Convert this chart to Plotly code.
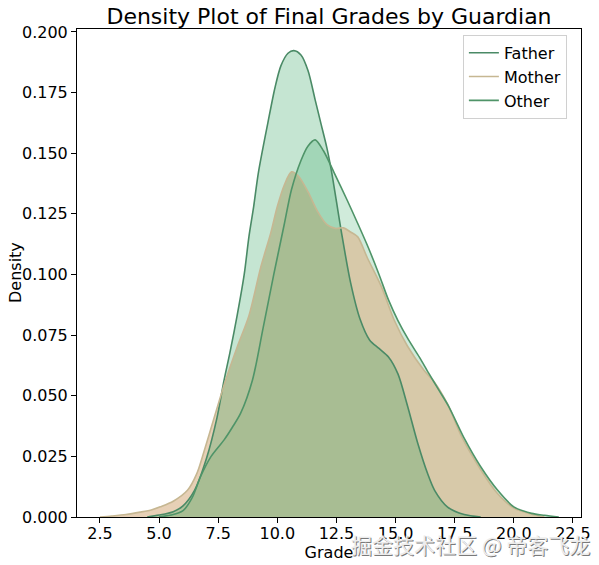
import plotly.graph_objects as go

# ---- data (grade, density) ----
father_x = [4.5, 5.0, 5.6, 6.0, 6.5, 7.0, 7.45, 7.75, 8.0, 8.3, 8.6, 8.8, 9.0, 9.2, 9.6, 9.9,
            10.15, 10.45, 10.7, 11.0, 11.3, 11.6, 11.85, 12.1, 12.3, 12.7, 13.1, 13.5, 13.9,
            14.3, 14.7, 15.1, 15.5, 15.95, 16.35, 16.65, 17.2, 17.9, 18.6]
father_y = [0.0, 0.0008, 0.0022, 0.0045, 0.011, 0.024, 0.041, 0.0565, 0.068, 0.083, 0.1, 0.1156,
            0.128, 0.142, 0.1625, 0.177, 0.186, 0.1912, 0.1923, 0.1905, 0.184, 0.172, 0.162,
            0.152, 0.142, 0.118, 0.0965, 0.0815, 0.073, 0.0695, 0.066, 0.059, 0.046, 0.030,
            0.018, 0.011, 0.0041, 0.001, 0.0]

mother_x = [2.5, 3.0, 3.6, 4.2, 4.7, 5.05, 5.6, 6.2, 6.6, 6.9, 7.3, 7.8, 8.3, 8.8, 9.3, 9.72,
            10.0, 10.3, 10.6, 10.9, 11.3, 11.7, 12.1, 12.45, 12.8, 13.1, 13.4, 13.8, 14.4,
            14.95, 15.5, 16.2, 16.65, 17.2, 17.8, 18.6, 19.3, 20.0, 20.9, 21.3]
mother_y = [0.0, 0.0004, 0.001, 0.002, 0.003, 0.0042, 0.0065, 0.011, 0.018, 0.027, 0.040, 0.056,
            0.07, 0.083, 0.103, 0.117, 0.128, 0.137, 0.1423, 0.1405, 0.134, 0.126, 0.1205,
            0.119, 0.1192, 0.1175, 0.1155, 0.107, 0.095, 0.081, 0.0705, 0.0605, 0.0555, 0.0465,
            0.033, 0.0195, 0.0098, 0.0037, 0.0008, 0.0]

other_x = [5.0, 5.5, 6.0, 6.4, 6.75, 7.2, 7.75, 8.1, 8.45, 8.95, 9.4, 9.85, 10.15, 10.3, 10.6,
           11.0, 11.3, 11.6, 11.95, 12.4, 12.95, 13.4, 13.85, 14.3, 14.7, 15.1, 15.55, 16.0,
           16.4, 16.85, 17.25, 17.9, 18.6, 19.3, 20.0, 20.75, 21.3, 21.9]
other_y = [0.0, 0.0008, 0.0025, 0.008, 0.0166, 0.025, 0.0318, 0.037, 0.0428, 0.0565, 0.078, 0.1,
           0.114, 0.121, 0.135, 0.147, 0.153, 0.1555, 0.151, 0.142, 0.1307, 0.121, 0.111, 0.1,
           0.0895, 0.081, 0.073, 0.066, 0.0593, 0.052, 0.0455, 0.0325, 0.0207, 0.0112, 0.0042,
           0.0015, 0.0007, 0.0]

x_ticks = [2.5, 5.0, 7.5, 10.0, 12.5, 15.0, 17.5, 20.0, 22.5]
y_ticks = [0.0, 0.025, 0.05, 0.075, 0.1, 0.125, 0.15, 0.175, 0.2]

series = {
    "Father": (father_x, father_y),
    "Mother": (mother_x, mother_y),
    "Other": (other_x, other_y),
}
fill_colors = {
    "Father": "rgba(40,160,88,0.27)",
    "Mother": "rgba(218,183,143,0.65)",
    "Other": "rgba(40,165,90,0.22)",
}
line_colors = {"Father": "#4a8a66", "Mother": "#c6b792", "Other": "#4f9468"}

fig = go.Figure()

# fills (drawn first)
for name in ["Other", "Mother", "Father"]:
    xs, ys = series[name]
    fig.add_trace(go.Scatter(
        x=xs, y=ys, mode="lines", fill="tozeroy", fillcolor=fill_colors[name],
        line=dict(width=0, shape="spline", smoothing=0.8, color=line_colors[name]),
        showlegend=False, hoverinfo="skip"))

# outlines (legend entries)
for name in ["Father", "Mother", "Other"]:
    xs, ys = series[name]
    fig.add_trace(go.Scatter(
        x=xs, y=ys, mode="lines", name=name,
        line=dict(width=1.6, shape="spline", smoothing=0.8, color=line_colors[name])))

# y-axis title placed like the reference
fig.add_annotation(text="Density", xref="paper", yref="paper", x=-0.123, y=0.5,
                   xanchor="center", yanchor="middle", textangle=-90, showarrow=False,
                   font=dict(family="DejaVu Sans", size=16, color="black"))

# watermark from the source image
wm = "掘金技术社区 @ 帝客飞龙"
fig.add_annotation(text=wm, xref="paper", yref="paper", x=1.0218, y=-0.056,
                   xanchor="right", yanchor="middle", showarrow=False, xshift=1, yshift=-1,
                   font=dict(family="Noto Sans CJK SC", size=21, color="#7a7a7a"))
fig.add_annotation(text=wm, xref="paper", yref="paper", x=1.0218, y=-0.056,
                   xanchor="right", yanchor="middle", showarrow=False,
                   font=dict(family="Noto Sans CJK SC", size=21, color="#ececec"))

axis_common = dict(
    showline=True, mirror=True, linecolor="black", linewidth=1,
    ticks="outside", ticklen=5, tickcolor="black", tickwidth=1,
    showgrid=False, zeroline=False, automargin=False,
    tickfont=dict(family="DejaVu Sans", size=16, color="black"),
)

fig.update_layout(
    width=599, height=565,
    margin=dict(l=77, r=18, t=29, b=48),
    paper_bgcolor="white", plot_bgcolor="white",
    font=dict(family="DejaVu Sans", size=16, color="black"),
    title=dict(text="Density Plot of Final Grades by Guardian", x=0.5, xref="paper",
               xanchor="center", y=1 - 16 / 565, yref="container", yanchor="middle",
               font=dict(family="DejaVu Sans", size=22, color="black")),
    xaxis=dict(range=[1.53, 22.84], tickvals=x_ticks,
               ticktext=[f"{v:.1f}" for v in x_ticks], ticklabelstandoff=-3,
               title=dict(text="Grade", standoff=0,
                          font=dict(family="DejaVu Sans", size=16)),
               **axis_common),
    yaxis=dict(range=[0, 0.2012], tickvals=y_ticks,
               ticktext=[f"{v:.3f}" for v in y_ticks],
               **axis_common),
    legend=dict(x=0.972, y=0.988, xanchor="right", yanchor="top",
                bgcolor="rgba(255,255,255,0.8)", bordercolor="#d0d0d0", borderwidth=1,
                font=dict(family="DejaVu Sans", size=16, color="black")),
)

fig.write_html("out.html", config={"displayModeBar": False},
               post_script="document.body.style.margin='0';document.body.style.padding='0';")
